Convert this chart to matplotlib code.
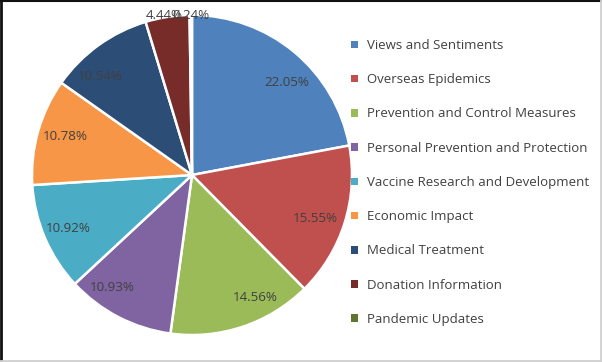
import numpy as np
import matplotlib.pyplot as plt
from matplotlib.lines import Line2D

categories = [
    "Views and Sentiments",
    "Overseas Epidemics",
    "Prevention and Control Measures",
    "Personal Prevention and Protection",
    "Vaccine Research and Development",
    "Economic Impact",
    "Medical Treatment",
    "Donation Information",
    "Pandemic Updates",
]
shares = [22.05, 15.55, 14.56, 10.93, 10.92, 10.78, 10.54, 4.44, 0.24]
colors = ["#4F81BD", "#C0504D", "#9BBB59", "#8064A2", "#4BACC6",
          "#F79646", "#2C4D75", "#772C2A", "#5F7530"]

# label placement tweaks (radius as fraction, angle shift in deg)
lab_r = [0.83, 0.82, 0.86, 0.86, 0.84, 0.83, 0.84, 1.01, 1.0]
lab_shift = [-6, -2, 9, -8, 0, -1, 7, 1, 0]

plt.rcParams["font.family"] = ["Open Sans", "DejaVu Sans"]

fig = plt.figure(figsize=(6.02, 3.62), dpi=100)
ax = fig.add_axes([32 / 602, 27 / 362, 320 / 602, 320 / 362])

wedges, _ = ax.pie(shares, colors=colors, startangle=90, counterclock=False,
                   radius=1, wedgeprops=dict(edgecolor="white", linewidth=1.8))
ax.set_xlim(-1, 1)
ax.set_ylim(-1, 1)
ax.set_aspect("equal")
ax.axis("off")

for i, w in enumerate(wedges):
    ang = np.deg2rad((w.theta1 + w.theta2) / 2 + lab_shift[i])
    r = lab_r[i]
    ax.text(r * np.cos(ang), r * np.sin(ang), f"{shares[i]:.2f}%",
            ha="center", va="center", fontsize=9.6, color="#404040",
            clip_on=False)

leg = fig.legend(wedges, categories, loc="upper left",
                 bbox_to_anchor=(351 / 602, 1 - 39 / 362),
                 frameon=False, fontsize=9.5, handlelength=0.5,
                 handleheight=0.5, handletextpad=0.75, labelspacing=1.61,
                 borderpad=0, borderaxespad=0)
for t in leg.get_texts():
    t.set_color("#404040")
for h in leg.legend_handles:
    h.set_edgecolor("none")

# outer frame
fig.add_artist(Line2D([0, 1], [0.998, 0.998], transform=fig.transFigure, color="#111111", lw=1.5))
fig.add_artist(Line2D([0.002, 0.002], [0, 1], transform=fig.transFigure, color="#111111", lw=2))
fig.add_artist(Line2D([0.998, 0.998], [0, 1], transform=fig.transFigure, color="#d0d0d0", lw=2))
fig.add_artist(Line2D([0, 1], [0.003, 0.003], transform=fig.transFigure, color="#d0d0d0", lw=2))

fig.savefig("out.png", dpi=100)
